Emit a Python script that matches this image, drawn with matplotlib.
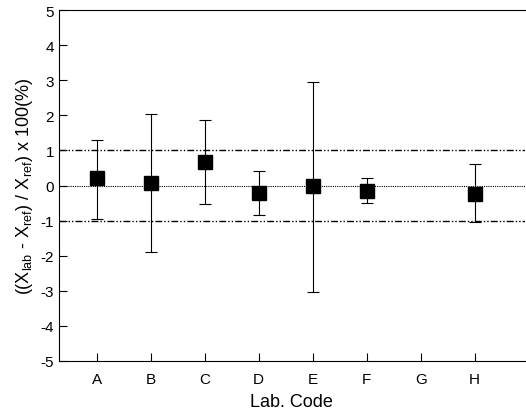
import matplotlib
matplotlib.use("Agg")
import matplotlib.pyplot as plt

plt.rcParams['font.family'] = ['Liberation Sans', 'DejaVu Sans']
plt.rcParams['axes.unicode_minus'] = False
plt.rcParams['mathtext.fontset'] = 'custom'
plt.rcParams['mathtext.rm'] = 'Liberation Sans'

# lab codes and relative deviations (%)
labs = ["A", "B", "C", "D", "E", "F", "G", "H"]
lab_pos = [1, 2, 3, 4, 5, 6, 8]
dev = [0.2, 0.08, 0.68, -0.22, -0.02, -0.15, -0.25]
err_low = [1.15, 1.98, 1.2, 0.63, 3.03, 0.36, 0.8]
err_high = [1.1, 1.97, 1.19, 0.62, 2.97, 0.37, 0.85]

fig = plt.figure(figsize=(5.26, 4.14), dpi=100)
ax = fig.add_axes([0.112, 0.126, 0.886, 0.847])

# reference lines
ax.axhline(0, color="black", lw=0.8, ls=(0, (1, 1)))
ax.axhline(1, color="black", lw=1.0, ls=(0, (5, 1.5, 1, 1.5, 1, 1.5)))
ax.axhline(-1, color="black", lw=1.0, ls=(0, (5, 1.5, 1, 1.5, 1, 1.5)))

ax.errorbar(lab_pos, dev, yerr=[err_low, err_high], fmt="s", color="black",
            ms=10, elinewidth=0.8, capsize=4, capthick=0.8)

ax.set_xlim(0.3, 8.93)
ax.set_ylim(-5, 5)
ax.set_xticks(range(1, 9))
ax.set_xticklabels(labs)
ax.set_yticks(range(-5, 6))
ax.tick_params(direction="in", length=6, labelsize=11)
ax.tick_params(axis="x", pad=8)
ax.spines["right"].set_visible(False)

ax.set_xlabel("Lab. Code", fontsize=13, labelpad=5)
ax.set_ylabel(r"((X$_{\mathrm{lab}}$ - X$_{\mathrm{ref}}$) / X$_{\mathrm{ref}}$) x 100(%)",
              fontsize=13)

fig.savefig("out.png", dpi=100)
